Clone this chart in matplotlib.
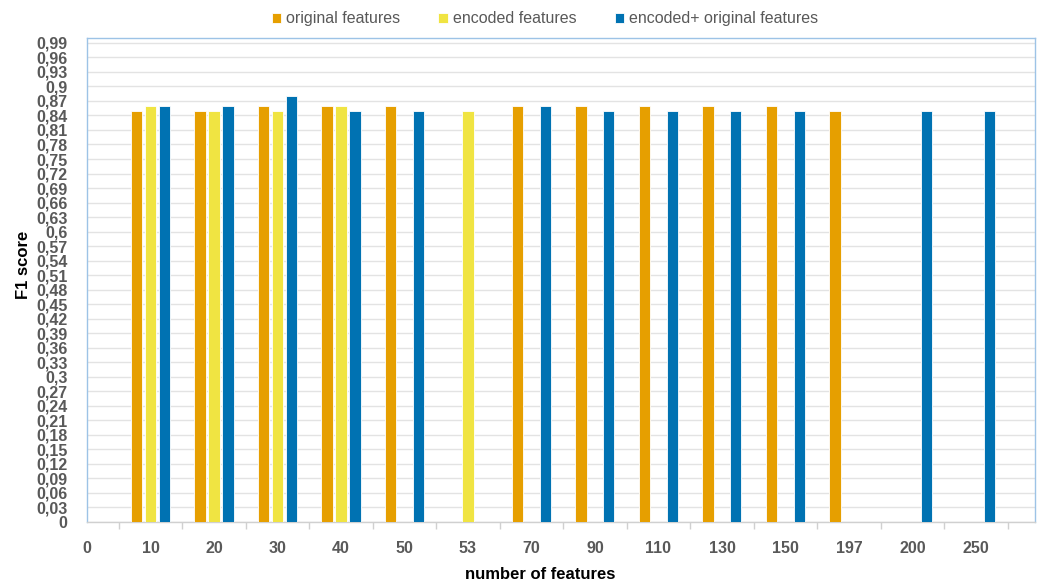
import numpy as np
import matplotlib.pyplot as plt

plt.rcParams['font.family'] = ['Liberation Sans', 'DejaVu Sans']

labels = ['0', '10', '20', '30', '40', '50', '53', '70', '90', '110', '130', '150', '197', '200', '250']
original = [np.nan, 0.85, 0.85, 0.86, 0.86, 0.86, np.nan, 0.86, 0.86, 0.86, 0.86, 0.86, 0.85, np.nan, np.nan]
encoded = [np.nan, 0.86, 0.85, 0.85, 0.86, np.nan, 0.85, np.nan, np.nan, np.nan, np.nan, np.nan, np.nan, np.nan, np.nan]
combined = [np.nan, 0.86, 0.86, 0.88, 0.85, 0.85, np.nan, 0.86, 0.85, 0.85, 0.85, 0.85, np.nan, 0.85, 0.85]

series = [
    ('original features', original, '#E69F00', -0.22),
    ('encoded features', encoded, '#F0E442', 0.0),
    ('encoded+ original features', combined, '#0072B2', 0.22),
]

fig = plt.figure(figsize=(10.44, 5.85), dpi=100)
ax = fig.add_axes([87 / 1044, 1 - 522 / 585, (1035 - 87) / 1044, (522 - 38) / 585])

xs = np.arange(len(labels))
for name, vals, color, off in series:
    ax.bar(xs + off, vals, width=0.175, color=color, edgecolor='white', linewidth=0.6,
           label=name, zorder=3)

ax.set_xlim(0, 14.93)
ax.set_ylim(0, 1.0)

yt = [round(i * 0.03, 2) for i in range(34)]
ax.set_yticks(yt)
ax.set_yticklabels([f'{v:g}'.replace('.', ',') for v in yt])
ax.yaxis.grid(True, color='#e3e3e3', linewidth=1.0, zorder=0)
ax.tick_params(axis='y', length=0, pad=14, labelsize=11.5, labelcolor='#595959')
for t in ax.get_yticklabels():
    t.set_fontweight('bold')

ax.set_xticks(xs)
ax.set_xticklabels(labels)
ax.set_xticks(np.arange(0.5, 15, 1.0), minor=True)
ax.tick_params(axis='x', which='major', length=0, pad=14, labelsize=11.5, labelcolor='#595959')
ax.tick_params(axis='x', which='minor', length=5, color='#d0d0d0', width=1)
for t in ax.get_xticklabels():
    t.set_fontweight('bold')

for s in ['left', 'top', 'right']:
    ax.spines[s].set_color('#9dc3e6')
    ax.spines[s].set_linewidth(1.0)
ax.spines['bottom'].set_color('#d0d0d0')
ax.spines['bottom'].set_linewidth(1.0)

ax.set_ylabel('F1 score', fontsize=12, fontweight='bold', color='black')
ax.yaxis.set_label_coords(-0.059, 0.531)
ax.set_xlabel('number of features', fontsize=12, fontweight='bold', color='black')
ax.xaxis.set_label_coords(0.478, -0.093)

fig.legend(loc='upper center', bbox_to_anchor=(0.522, 1.005), ncol=3, frameon=False,
           handlelength=0.6, handleheight=0.6, handletextpad=0.3, columnspacing=2.4,
           prop={'size': 11.5}, labelcolor='#595959')

fig.savefig('out.png', dpi=100)
plt.close(fig)
